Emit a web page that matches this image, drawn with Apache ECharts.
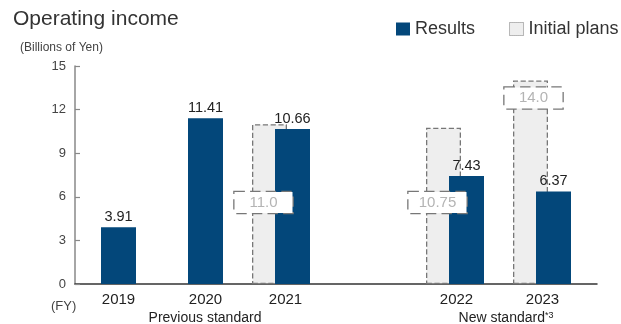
<!DOCTYPE html>
<html>
<head>
<meta charset="utf-8">
<script src="https://cdn.jsdelivr.net/npm/echarts@6/dist/echarts.min.js"></script>
<style>
  html, body { margin: 0; padding: 0; background: #fff; }
  #chart { width: 621px; height: 324px; }
</style>
</head>
<body>
<div id="chart"></div>
<script>
// Fiscal years (blank slot separates the two accounting standards)
const years = ['2019', '2020', '2021', '', '2022', '2023'];
// Operating income, billions of yen
const results = [3.91, 11.41, 10.66, null, 7.43, 6.37];
const initialPlans = [null, null, 11.0, null, 10.75, 14.0];
// Value axis
const yMin = 0;
const yMax = 15;
const yStep = 3;

const SANS = "'Liberation Sans', Arial, Helvetica, sans-serif";
const BLUE = '#03477A';

const chart = echarts.init(document.getElementById('chart'), null, { renderer: 'canvas' });

// shift the labels of paired years towards the middle of the pair
const labelShift = { '2021': -7, '2022': -10, '2023': -11 };
const yearData = years.map(y => {
  const s = labelShift[y] || 0;
  return s ? { value: y, textStyle: { padding: [0, -2 * s, 0, 0] } } : y;
});

// plan values sit in a dashed box: low in the bar when a result stands next to it, at the top otherwise
const planLabelPos = initialPlans.map(v => {
  if (v == null) return v;
  if (v >= 13) return { value: v, label: { position: 'insideTop', distance: 7, offset: [3, 0] } };
  return { value: v, label: { position: 'insideBottom', distance: 71, offset: [-6, 0] } };
});

const fmtPlan = p => (p.value % 1 === 0 ? p.value.toFixed(1) : String(p.value));

const option = {
  animation: false,
  title: {
    text: 'Operating income',
    left: 13, top: 9, padding: 0,
    textStyle: { fontFamily: SANS, fontSize: 21, fontWeight: 'normal', color: '#333' }
  },
  legend: {
    orient: 'horizontal',
    left: 396, top: 20, width: 400, padding: 0,
    itemWidth: 14, itemHeight: 13, itemGap: 34,
    textStyle: { fontFamily: SANS, fontSize: 18, color: '#333' },
    data: [
      { name: 'Results', icon: 'rect', itemStyle: { color: BLUE, borderWidth: 0 } },
      { name: 'Initial plans', icon: 'rect',
        itemStyle: { color: '#eeeeee', borderColor: '#777', borderType: 'dotted', borderWidth: 1 } }
    ]
  },
  grid: [
    { left: 75, right: 24, top: 66, bottom: 40 },
    { left: 52, right: 47, top: 66, bottom: 40 }
  ],
  xAxis: [
    {
      type: 'category', gridIndex: 0, data: yearData,
      axisLine: { lineStyle: { color: '#333', width: 1.5 } },
      axisTick: { show: false },
      axisLabel: { margin: 8, fontFamily: SANS, fontSize: 15, color: '#222' }
    },
    { type: 'category', gridIndex: 1, data: years, show: false }
  ],
  yAxis: [
    {
      type: 'value', gridIndex: 0, min: yMin, max: yMax, interval: yStep,
      axisLine: { show: true, lineStyle: { color: '#888', width: 1.5 } },
      axisTick: { show: true, inside: true, length: 5, lineStyle: { color: '#888', width: 1.2 } },
      splitLine: { show: false },
      axisLabel: { margin: 9, fontFamily: SANS, fontSize: 13, color: '#444' }
    },
    { type: 'value', gridIndex: 1, min: yMin, max: yMax, interval: yStep, show: false }
  ],
  series: [
    {
      name: 'Initial plans', type: 'bar', xAxisIndex: 1, yAxisIndex: 1,
      data: initialPlans, barWidth: 35, barGap: '-100%', z: 2,
      itemStyle: { color: '#eeeeee', borderColor: '#777', borderType: 'dashed', borderWidth: 1.3 }
    },
    {
      name: 'Results', type: 'bar', xAxisIndex: 0, yAxisIndex: 0,
      data: results, barWidth: 35, z: 3,
      itemStyle: { color: BLUE },
      label: {
        show: true, position: 'top', distance: 3,
        fontFamily: SANS, fontSize: 14.5, color: '#222',
        formatter: p => p.value.toFixed(2)
      }
    },
    {
      name: 'planValue', type: 'bar', xAxisIndex: 1, yAxisIndex: 1,
      data: planLabelPos, barWidth: 35, barGap: '-100%', z: 4,
      itemStyle: { color: 'rgba(0,0,0,0)' },
      silent: true,
      label: {
        show: true, formatter: fmtPlan,
        fontFamily: SANS, fontSize: 15, color: '#b4b4b4',
        backgroundColor: '#fff', borderColor: '#777', borderType: 'dashed', borderWidth: 1.3,
        width: 58, align: 'center', lineHeight: 17, padding: [2, 0]
      }
    }
  ],
  graphic: [
    { type: 'text', left: 20, top: 42,
      style: { text: '(Billions of Yen)', fontFamily: SANS, fontSize: 12, fill: '#444' } },
    { type: 'text', left: 51, top: 300,
      style: { text: '(FY)', fontFamily: SANS, fontSize: 13, fill: '#444' } },
    { type: 'text', x: 205, y: 318,
      style: { text: 'Previous standard', fontFamily: SANS, fontSize: 14, fill: '#222',
               align: 'center', verticalAlign: 'middle' } },
    { type: 'text', x: 506, y: 318,
      style: { text: 'New standard{s|*3}', fontFamily: SANS, fontSize: 14, fill: '#222',
               align: 'center', verticalAlign: 'middle',
               rich: { s: { fontFamily: SANS, fontSize: 9, fill: '#222', verticalAlign: 'top', lineHeight: 10 } } } }
  ]
};

chart.setOption(option);
</script>
</body>
</html>
